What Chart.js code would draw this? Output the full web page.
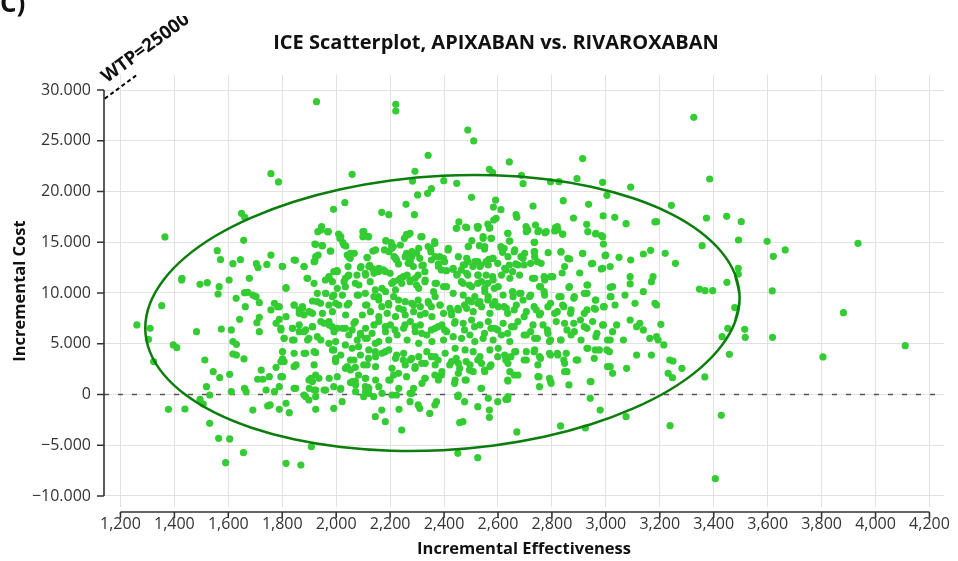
<!DOCTYPE html>
<html>
<head>
  <title>ICE Scatterplot, APIXABAN vs. RIVAROXABAN</title>
  <script src="https://cdn.jsdelivr.net/npm/chart.js"></script>
  <style>
    body { margin: 0; background: #fff; }
    .chart-container { width: 958px; height: 561px; position: relative; }
  </style>
</head>
<body>
  <div class="chart-container"><canvas id="iceChart"></canvas></div>

  <script>
    // Axis ticks and ranges
    const xTicks = [1200, 1400, 1600, 1800, 2000, 2200, 2400, 2600, 2800, 3000, 3200, 3400, 3600, 3800, 4000, 4200];
    const yTicks = [30000, 25000, 20000, 15000, 10000, 5000, 0, -5000, -10000];
    const xRange = [1139, 4254];
    const yRange = [-11084, 31478];

    // Simulated draws: [incremental effectiveness, incremental cost]
    const iceDraws = [
      [1927,28850],[1758,21760],[1786,20940],[2059,21690],[2032,18900],[1990,18240],[1649,17850],[1661,17460],[1365,15520],[1657,15190],
      [1559,14170],[1571,13280],[1617,12890],[1645,13280],[1758,13740],[1704,12890],[1710,12500],[1743,12820],[1800,12630],[1849,13220],
      [1881,12600],[1921,13120],[1933,13740],[1921,14830],[1948,14660],[1932,16040],[1946,16540],[1968,16040],[1978,14140],[2009,15810],
      [2014,15390],[2025,14960],[2036,14630],[2041,13740],[2052,13420],[2067,13910],[2044,12600],[2099,16040],[2120,15550],[2099,15550],
      [2136,14140],[2115,13510],[2092,12600],[2108,11940],[2124,12730],[2135,12400],[2154,12170],[1428,11450],[1678,11450],[1892,11450],
      [1960,11280],[1973,11610],[1991,12100],[2003,12200],[2034,11450],[2044,11680],[2077,11770],
      [2221,28590],[2221,27930],[2488,26060],[2510,24980],[2341,23560],[2292,21990],[2283,21030],[2302,19660],[2339,19820],[2353,20280],
      [2399,21070],[2447,20810],[2568,22180],[2580,21860],[2642,22910],[2687,21590],[2693,20770],[2795,20970],[2826,20970],[2893,21260],
      [2914,23240],[2988,20900],[3004,19620],[3092,20440],[2502,19430],[2591,19160],[2583,18470],[2611,18210],[2259,18740],[2290,17720],
      [2169,17950],[2195,17720],[2730,18570],[2842,19100],[2936,18740],[2667,17720],[2670,17460],[2584,17190],[2593,17360],[2880,17390],
      [2929,16770],[2990,17590],[3033,17460],[3075,16830],[3182,17000],[2455,17000],[2445,16370],[2480,16500],[2523,16540],[2525,16370],
      [2562,16800],[2568,16370],[2704,16540],[2705,16040],[2739,16700],[2751,16140],[2774,15940],[2813,16440],[2820,16540],[2810,16110],
      [2840,15810],[2962,15810],[2984,15650],[2991,14830],[2261,15780],[2274,15880],[2253,15390],[2314,15550],[2204,14960],[2206,14570],
      [2184,15160],[2366,14890],[2341,14570],[2351,14070],[2545,15550],[2574,15390],[2636,15880],[2642,15120],[2503,15160],[2490,14570],
      [2531,14660],[2550,14340],[2611,14570],[2617,14010],[2623,14400],[2660,14070],[2734,14990],[2734,14070],[2736,13580],[2786,13970],
      [2833,14040],[2866,13350],[2914,13880],[2947,12890],[2997,13680],[3049,13510],[3092,13250],[3139,13840],[3166,14200],[2983,12370],
      [2179,14240],[2196,14070],[2212,14570],[2215,13580],[2224,13250],[2231,12860],[2261,13910],[2280,13580],[2298,13910],[2267,12920],
      [2286,12600],[2310,13420],[2323,12760],[2353,13250],[2384,13580],[2402,13090],[2415,14240],[2379,12860],[2390,12270],[2409,12200],
      [2433,12330],[2449,11840],[2464,12270],[2476,12760],[2488,13090],[2507,12600],[2525,13090],[2537,12760],[2556,13090],[2566,13320],
      [2580,13420],[2599,12920],[2629,12270],[2642,12760],[2654,12100],[2666,12860],[2685,13580],[2697,12760],[2721,12920],[2746,13090],
      [2728,11450],[2771,11610],[2795,11610],[2903,11970],[3016,12600],[3090,11610],[3175,11610],[2200,11940],[2175,12270],[2157,12100],
      [2231,11280],[2249,11610],[2274,11280],[2304,11770],[2329,12100],[2488,11770],[2525,11770],[2556,11770],[2580,11610],[2838,11970],
      [2206,10950],[2243,10950],[2274,11120],[2298,10790],[2329,11120],[2372,10950],[2409,10620],[2464,11120],[2494,10790],[2525,10950],
      [2562,10950],[2586,10460],[2654,10130],[2685,9970],[2721,9800],[2758,10620],[2771,10130],[2826,9640],[2863,10560],[2881,9480],
      [2930,10790],[2930,9970],[2961,9310],[3016,10560],[3016,9640],[3071,9800],[3090,10890],[3139,10130],[3169,11120],[3182,8980],
      [2169,8650],[2194,8980],[2231,9310],[2249,8330],[2280,8980],[2304,9310],[2341,9150],[2353,8650],[2384,8820],[2427,8160],
      [2451,8490],[2476,8820],[2501,9150],[2525,8980],[2562,9310],[2580,8820],[2623,8650],[2636,8000],[2660,8330],[2697,7670],
      [2734,8650],[2758,8000],[2795,8980],[2820,8160],[2844,8650],[2869,8000],[2906,7340],[2930,8330],[2961,8390],[2991,8650],
      [3034,8820],[3040,6850],[3090,7340],[3108,8980],[3126,7010],
      [2182,6680],[2218,6360],[2255,6850],[2292,6680],[2317,6030],[2353,6360],[2378,6680],[2402,6360],[2439,7010],[2476,6360],
      [2513,6680],[2550,6030],[2574,6520],[2599,6360],[2636,6030],[2660,6680],[2697,5860],[2721,6190],[2746,5530],[2783,6360],
      [2795,5370],[2832,5370],[2856,6360],[2881,7010],[2930,6520],[2967,6030],[2991,6850],[3016,5370],[3065,5370],[3114,6680],
      [3139,6360],[3163,5530],
      [2182,4220],[2224,3890],[2249,3400],[2280,3560],[2292,2580],[2317,3070],[2353,3730],[2378,3400],[2390,1920],[2421,2910],
      [2445,3560],[2458,2580],[2482,3240],[2494,2410],[2525,3400],[2550,2410],[2574,2910],[2599,3730],[2629,3400],[2648,3730],
      [2666,4220],[2697,3400],[2734,4220],[2758,3560],[2795,3890],[2820,4060],[2844,3400],[2856,2250],[2893,3400],[2930,4550],
      [2961,4390],[3004,4390],[3016,2740],[3077,2580],[3114,3890],[3169,3890],[2200,1430],[2231,2090],[2261,1760],[2329,1590],
      [2366,1920],[2439,1100],[2482,1430],[2537,610],[2636,1430],[2660,1920],[2752,1760],[2795,1270],[2863,940],[2942,1270],
      [2169,-1530],[2182,-2680],[2233,-1460],[2243,-3500],[2274,-710],[2304,-1030],[2310,-1360],[2347,-1860],[2366,-1030],[2372,-710],
      [2451,-210],[2458,-2780],[2470,-2680],[2476,-710],[2525,-1200],[2568,-1530],[2568,-2250],[2599,-710],[2629,-480],[2636,-480],
      [2670,-3690],[2832,-3100],[2924,-3300],[2942,-380],[2979,-1530],[3075,-2180],[2451,-5800],[2525,-6220],[2224,-50],[2274,120],
      [1427,11280],[1495,10850],[1522,11020],[1566,10620],[1562,9900],[1603,11280],[1629,9480],[1660,10030],[1672,10070],[1691,9800],
      [1703,9640],[1715,9050],[1663,8650],[1353,8750],[1261,6850],[1310,6520],[1304,5440],[1482,6190],[1574,6450],[1611,6360],
      [1642,7410],[1706,7080],[1715,7600],[1715,6190],[1758,8330],[1771,8980],[1783,8650],[1777,7010],[1789,7410],[1795,6360],
      [1807,5530],[1838,5370],[1844,8820],[1863,8330],[1875,8650],[1899,8160],[1881,7830],[1912,8000],[1930,9150],[1942,8980],
      [1814,10460],[1838,6520],[1863,6190],[1887,6360],[1912,6680],[1899,5530],[1930,5700],[1955,7010],[1973,7180],[1985,6680],
      [2004,6520],[1973,5040],[1991,4390],[1998,3400],[2034,6520],[2059,6360],[2071,7180],[2090,6030],[2108,5530],[2083,4710],
      [2059,4550],[2034,4880],[2053,3400],[2034,2580],[2071,2680],[2102,2910],[2108,1590],[2120,3560],[2145,4220],[2145,5040],
      [2133,6030],[2114,8820],[2108,9970],[2083,9800],[2041,8820],[2010,8820],[1991,9800],[1973,8820],[1961,9970],[2004,10460],
      [2034,10620],[2071,10950],[2126,11120],[2145,10300],[2157,9640],
      [1396,4880],[1409,4610],[1513,3400],[1544,2250],[1568,1660],[1605,1990],[1617,5210],[1630,4940],[1617,3990],[1630,3890],
      [1658,3500],[1722,2410],[1728,1500],[1752,1760],[1709,1500],[1795,1760],[1789,770],[1740,440],[1771,280],[1801,3500],
      [1777,2680],[1795,3240],[1844,2740],[1887,4060],[1924,4120],[1918,2910],[1924,1920],[1899,1430],[1936,1590],[1850,610],
      [1918,440],[1961,440],[1991,770],[2016,510],[2004,1760],[2053,1170],[2071,1330],[2108,770],[2120,120],[2022,-710],
      [1991,-1360],[1924,-1460],[1887,-210],[1899,-540],[1814,-870],[1826,-1790],[1789,-1460],[1746,-1130],[1755,-1030],[1691,-1530],
      [1666,280],[1660,610],[1611,280],[1531,-50],[1519,770],[1495,-480],[1507,-940],[1439,-1430],[1378,-1460],[1323,3240],
      [1531,-2840],[1564,-4320],[1605,-4380],[1656,-5730],[1590,-6720],[1814,-6780],[1869,-6950],[1908,-5140],[2145,-2180],[2139,-210],
      [2102,-210],[2083,1920],[2118,710],
      [3347,10390],[3368,10230],[3396,10230],[3449,11050],[3617,10200],[3478,8560],[3881,8060],[3204,6910],[3188,8820],[3188,5700],
      [3194,5370],[3215,4880],[3237,3400],[3249,3300],[3231,2090],[3247,1660],[3282,2580],[3367,1730],[3431,5700],[3452,6520],
      [3458,3960],[3515,6420],[3517,5630],[3618,5630],[3805,3700],[4110,4810],[3428,-2050],[3238,-3070],[3406,-8290],
      [3326,27310],[3385,21230],[3243,18640],[3188,17030],[3373,17390],[3448,17550],[3502,17030],[3357,14660],[3492,15220],[3598,15090],
      [3220,13910],[3258,12920],[3621,13610],[3665,14240],[3935,14890],[3491,12430],[3491,11870],
      // dense core, left half
      [1943,16210],[1971,16040],[2017,15550],[2029,14730],[2103,16040],[2119,15550],[2185,15120],[2266,15720],[2318,15550],[2365,15060],
      [1924,14800],[1949,14660],[1980,14140],[2207,14400],[2238,14730],[1844,13250],[1881,12600],[1801,12600],[1924,13580],[1918,13090],
      [2047,13580],[2053,13910],[2146,14240],[2115,13480],[2220,13420],[2256,13580],[2281,14070],[2306,14400],[2349,14400],[2367,13580],
      [2398,13420],[2379,12600],[2090,12500],[2121,12600],[2158,12430],[2275,13090],[2318,12690],[1814,10530],[1894,11450],[1918,10950],
      [1974,11450],[2004,12100],[1986,11120],[2029,11120],[2047,11770],[2084,10790],[2109,11770],[2140,11940],[2183,12100],[2213,11120],
      [2238,11450],[2263,11770],[2293,11450],[2330,11280],[2367,10950],[2398,10630],[2170,10460],[2220,10300],[2306,10460],[2361,10130],
      [1789,8650],[1844,8820],[1875,8490],[1912,9210],[1930,9970],[1961,9970],[1986,9640],[1998,8980],[2023,9800],[2047,8980],
      [2078,9800],[2109,8820],[2140,9640],[2158,9310],[2183,10130],[2195,8820],[2213,9640],[2232,8490],[2256,9150],[2287,8820],
      [2312,8650],[2343,8980],[2367,9640],[2386,8820],[1814,7670],[1863,8000],[1906,8100],[1949,8000],[1986,8160],[2035,7830],
      [2097,7830],[2127,8160],[2158,7670],[2189,8000],[2220,7670],[2256,7830],[2287,8160],[2312,7830],[2330,8000],[2355,7670],
      [2398,8000],[1795,6520],[1838,6520],[1863,6850],[1881,6190],[1912,6680],[1943,7180],[1974,6850],[1992,6190],[2023,6520],
      [2047,5860],[2066,7010],[2090,5860],[2109,6520],[2140,6850],[2158,7180],[2183,6190],[2201,6850],[2226,5860],[2250,6520],
      [2275,7180],[2293,6190],[2312,6850],[2336,5860],[2367,6520],[2392,6850],[2410,6190],[1807,5530],[1844,5370],[1894,5370],
      [1943,5370],[1998,5210],[2078,5370],[2115,5530],[2158,5210],[2195,5370],[2263,5370],[2306,5040],[2355,5210],[2398,5370],
      [1801,4220],[1844,4060],[1881,4060],[1918,4220],[1986,4390],[1998,3560],[2017,3890],[2041,2740],[2066,3400],[2090,3890],
      [2121,4390],[2146,3730],[2170,4060],[2195,4390],[2220,3560],[2250,4060],[2275,3400],[2306,3730],[2336,4220],[2367,3730],
      [2404,4060],[1807,3240],[1851,2910],[1998,3240],[2053,2420],[2115,2910],[2146,2740],[2207,2580],[2256,2910],[2293,2740],
      [2330,3070],[2367,2910],[2392,2250],[1801,1760],[1844,610],[1906,1590],[1912,1270],[1900,610],[1924,440],[1955,440],
      [1974,1590],[2017,610],[2060,1270],[2072,940],[2109,1590],[2146,1430],[2121,610],[2195,1430],[2213,1920],[2158,770],
      [2232,610],[2287,610],[2318,1100],[2330,1590],[2379,1430],[1881,-50],[1924,-210],[2072,280],[2109,280],[2170,120],
      [2207,-50],[2281,120],
      // dense core, right half
      [2447,16370],[2484,16440],[2527,16540],[2570,16440],[2711,16210],[2748,16040],[2779,16040],[2822,16210],[2840,15780],[2933,16040],
      [2963,15880],[2988,15550],[2637,15880],[2545,15390],[2576,15390],[2644,15120],[2736,14990],[2490,14570],[2551,14570],[2416,14400],
      [2613,14400],[2662,14240],[2699,13910],[2736,14070],[2834,14070],[2914,13910],[3000,13740],[2453,13580],[2484,13420],[2514,13090],
      [2582,13420],[2637,13580],[2693,13420],[2760,12920],[2859,13420],[2434,12430],[2471,12760],[2533,12600],[2564,12760],[2625,12430],
      [2674,12760],[2847,12600],[2951,12920],[2988,12430],[2447,11770],[2484,11940],[2527,11770],[2539,11120],[2582,11280],[2613,11770],
      [2644,11450],[2680,11770],[2736,11450],[2773,11280],[2803,11610],[2471,10950],[2502,10630],[2551,10460],[2601,10630],[2754,10630],
      [2865,10630],[2933,10790],[3025,10630],[2434,9970],[2471,9800],[2490,9310],[2514,9640],[2533,9150],[2551,10130],[2564,9640],
      [2588,9150],[2619,9800],[2656,9640],[2680,9970],[2693,9310],[2717,9640],[2773,9800],[2834,9640],[2883,9640],[2920,9970],
      [2963,9310],[3019,9640],[2422,8490],[2453,8330],[2484,8490],[2508,8160],[2539,8650],[2570,8000],[2601,8650],[2631,8490],
      [2668,8820],[2705,8160],[2742,8330],[2754,7830],[2785,8650],[2810,8000],[2840,8820],[2871,8330],[2920,8000],[2957,8490],
      [2994,8650],[2428,7830],[2441,7180],[2471,7010],[2502,7340],[2533,6850],[2564,7180],[2588,6520],[2619,7010],[2650,6680],
      [2674,7180],[2705,5860],[2730,6850],[2767,6850],[2785,6030],[2816,7180],[2847,7010],[2883,6190],[2920,6680],[2951,7180],
      [2988,6850],[3025,6190],[2434,5700],[2465,5530],[2496,5860],[2514,5210],[2545,5530],[2582,5370],[2613,5860],[2644,5210],
      [2736,5530],[2791,5210],[2834,5370],[2871,5860],[2908,5370],[2963,5700],[3006,5370],[2441,4550],[2478,4390],[2508,4220],
      [2533,3730],[2570,4390],[2601,4550],[2625,3890],[2662,4220],[2705,4220],[2736,4390],[2754,3730],[2791,4060],[2822,3890],
      [2853,4060],[2890,3400],[2933,4550],[2976,4390],[3013,4220],[2428,3240],[2453,3070],[2496,2910],[2539,3070],[2570,2740],
      [2637,3070],[2705,3400],[2748,2910],[2847,3070],[2896,3400],[2957,3560],[3006,2740],[3025,2090],[2453,2090],[2508,2250],
      [2551,2250],[2644,2250],[2748,1760],[2791,1590],[2847,2250],[2441,1430],[2478,1430],[2539,610],[2637,1330],[2674,1920],
      [2754,770],[2797,1100],[2945,1270],[2453,-50],[2564,-380],[2637,-210]
    ];

    // 95% confidence ellipse, every 10 degrees
    const ellipseX = [3496, 3479, 3429, 3348, 3238, 3102, 2945, 2771, 2585, 2394, 2203, 2017, 1843, 1686, 1550, 1440, 1359, 1309,
      1292, 1309, 1359, 1440, 1550, 1686, 1843, 2017, 2203, 2394, 2585, 2771, 2945, 3102, 3238, 3348, 3429, 3479];
    const ellipseY = [9508, 11833, 14041, 16068, 17850, 19334, 20473, 21236, 21596, 21546, 21084, 20224, 18996, 17432, 15587, 13508, 11264, 8922,
      6552, 4227, 2019, -8, -1790, -3274, -4413, -5176, -5536, -5486, -5024, -4164, -2936, -1372, 473, 2552, 4796, 7138];

    // Willingness-to-pay threshold line
    const wtpLabel = 'WTP=25000';
    const wtpX = [1100, 1300];
    const wtpY = [28330, 32250];

    const n = ellipseX.length;
    const ellipsePts = ellipseX.map((x, i) => ({ x, y: ellipseY[i] }));
    const ellipseLoop = [ellipsePts[n - 1], ...ellipsePts, ellipsePts[0], ellipsePts[1]];

    const fmtCost = v => (v < 0 ? '\u2212' : '') + Math.abs(v).toLocaleString('de-DE');
    const fmtEff = v => v.toLocaleString('en-US');

    const decor = {
      id: 'decor',
      beforeDatasetsDraw(chart) {
        const { ctx, chartArea: a, scales: { y } } = chart;
        const y0 = y.getPixelForValue(0);
        ctx.save();
        ctx.strokeStyle = '#555';
        ctx.lineWidth = 1.3;
        ctx.setLineDash([5, 9]);
        ctx.beginPath();
        ctx.moveTo(a.left, y0);
        ctx.lineTo(a.right, y0);
        ctx.stroke();
        ctx.restore();
      },
      afterDraw(chart) {
        const { ctx, chartArea: a, scales: { x, y } } = chart;
        ctx.save();
        // axes
        ctx.strokeStyle = '#333';
        ctx.lineWidth = 1.6;
        ctx.beginPath();
        const yt = y.getPixelForValue(yTicks[0]), yb = y.getPixelForValue(yTicks[yTicks.length - 1]);
        ctx.moveTo(a.left, yt);
        ctx.lineTo(a.left, yb);
        yTicks.forEach(v => { const p = y.getPixelForValue(v); ctx.moveTo(a.left - 7, p); ctx.lineTo(a.left, p); });
        const xa = a.bottom + 5;
        ctx.moveTo(x.getPixelForValue(xTicks[0]), xa);
        ctx.lineTo(x.getPixelForValue(xTicks[xTicks.length - 1]), xa);
        xTicks.forEach(v => { const p = x.getPixelForValue(v); ctx.moveTo(p, xa); ctx.lineTo(p, xa + 6); });
        ctx.stroke();

        // title and panel letter
        ctx.fillStyle = '#111';
        ctx.textAlign = 'center';
        ctx.textBaseline = 'middle';
        ctx.font = 'bold 20px "Open Sans"';
        ctx.fillText('ICE Scatterplot, APIXABAN vs. RIVAROXABAN', 496, 43);
        ctx.textAlign = 'left';
        ctx.textBaseline = 'alphabetic';
        ctx.font = 'bold 26px "Open Sans"';
        ctx.fillText('C)', 0, 12);

        // WTP label, rotated along the line, cut at the top like the original
        const x0 = x.getPixelForValue(wtpX[0]), y0 = y.getPixelForValue(wtpY[0]);
        const x1 = x.getPixelForValue(wtpX[1]), y1 = y.getPixelForValue(wtpY[1]);
        const ang = Math.atan2(y1 - y0, x1 - x0);
        ctx.beginPath();
        ctx.rect(0, 16, 400, 100);
        ctx.clip();
        ctx.translate(a.left + 3, y.getPixelForValue(29100) - 16);
        ctx.rotate(ang);
        ctx.font = 'bold 18.5px "Open Sans"';
        ctx.fillText(wtpLabel, 0, 0);
        ctx.restore();
      }
    };

    const tickFont = { family: 'Open Sans', size: 16 };
    const titleFont = { family: 'Open Sans', size: 16.5, weight: 'bold' };

    new Chart(document.getElementById('iceChart'), {
      type: 'scatter',
      data: {
        datasets: [
          {
            type: 'line',
            data: ellipseLoop,
            borderColor: '#0b7d0b',
            borderWidth: 2.5,
            pointRadius: 0,
            tension: 0.4,
            fill: false
          },
          {
            data: iceDraws.map(d => ({ x: d[0], y: d[1] })),
            backgroundColor: '#33cc33',
            borderWidth: 0,
            pointRadius: 3.6
          },
          {
            type: 'line',
            data: wtpX.map((x, i) => ({ x, y: wtpY[i] })),
            borderColor: '#000',
            borderWidth: 2,
            borderDash: [4, 3],
            pointRadius: 0
          }
        ]
      },
      options: {
        responsive: true,
        maintainAspectRatio: false,
        animation: false,
        events: [],
        layout: { padding: { top: 75, right: 10, left: 0, bottom: 0 } },
        plugins: { legend: { display: false }, tooltip: { enabled: false } },
        scales: {
          x: {
            min: xRange[0], max: xRange[1],
            afterBuildTicks: s => { s.ticks = xTicks.map(v => ({ value: v })); },
            afterFit: s => { s.height = 54; },
            border: { display: false },
            grid: { color: '#e2e2e2', drawTicks: false },
            ticks: { color: '#333', font: tickFont, padding: 8, maxRotation: 0, autoSkip: false, callback: fmtEff },
            title: { display: true, text: 'Incremental Effectiveness', color: '#111', font: titleFont, padding: { top: 0, bottom: 2 } }
          },
          y: {
            min: yRange[0], max: yRange[1],
            afterBuildTicks: s => { s.ticks = yTicks.map(v => ({ value: v })); },
            afterFit: s => { s.width = 104; },
            border: { display: false },
            grid: { color: '#e2e2e2', drawTicks: false },
            ticks: { color: '#333', font: tickFont, padding: 13, autoSkip: false, callback: fmtCost },
            title: { display: true, text: 'Incremental Cost', color: '#111', font: titleFont, padding: { top: 10, bottom: 0 } }
          }
        }
      },
      plugins: [decor]
    });
  </script>
</body>
</html>
